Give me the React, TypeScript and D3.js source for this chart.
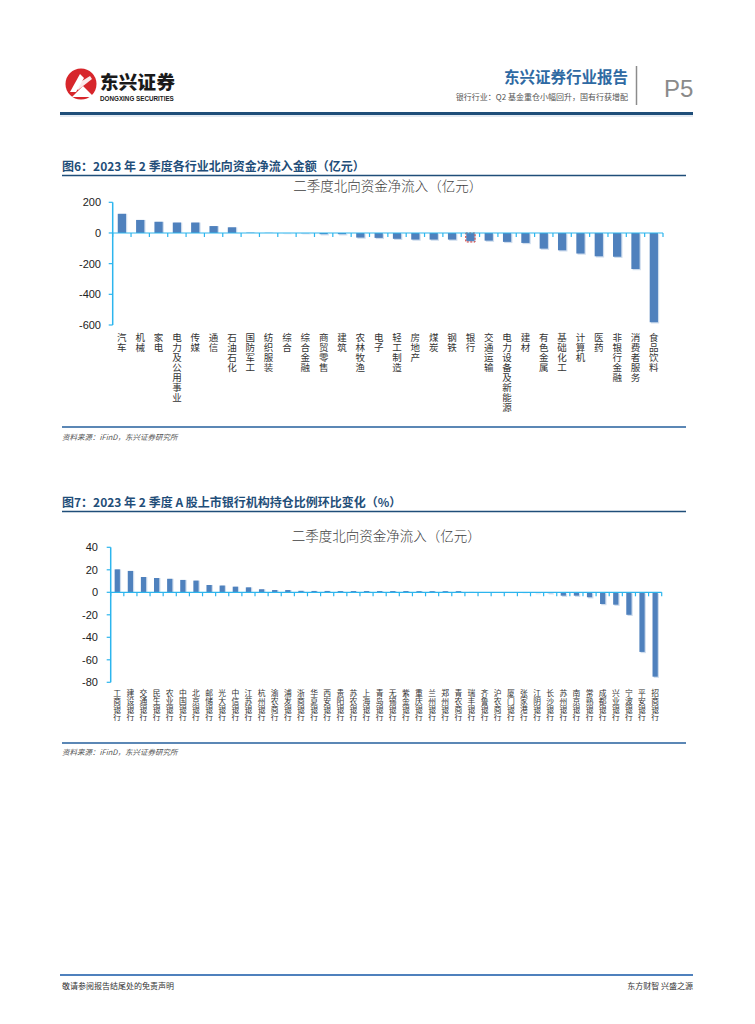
import * as d3 from "d3";

// 图6 data
const industries = [
  "汽车", "机械", "家电", "电力及公用事业", "传媒", "通信", "石油石化", "国防军工",
  "纺织服装", "综合", "综合金融", "商贸零售", "建筑", "农林牧渔", "电子", "轻工制造",
  "房地产", "煤炭", "钢铁", "银行", "交通运输", "电力设备及新能源", "建材", "有色金属",
  "基础化工", "计算机", "医药", "非银行金融", "消费者服务", "食品饮料",
];
const industryFlow = [
  125, 85, 73, 68, 68, 45, 37, 2, 1, -1, -2, -8, -8, -30, -32, -38,
  -43, -43, -43, -52, -50, -58, -65, -102, -113, -134, -152, -155, -235, -582,
];
const flowTicks = [200, 0, -200, -400, -600];

// 图7 data
const banks = [
  "工商银行", "建设银行", "交通银行", "民生银行", "农业银行", "中国银行", "北京银行",
  "邮储银行", "光大银行", "中信银行", "江苏银行", "杭州银行", "渝农商行", "浦发银行",
  "浙商银行", "华夏银行", "西安银行", "贵阳银行", "苏农银行", "上海银行", "青岛银行",
  "无锡银行", "紫金银行", "重庆银行", "兰州银行", "郑州银行", "青农商行", "瑞丰银行",
  "齐鲁银行", "沪农商行", "厦门银行", "张家港行", "江阴银行", "长沙银行", "苏州银行",
  "南京银行", "常熟银行", "成都银行", "兴业银行", "宁波银行", "平安银行", "招商银行",
];
const bankChange = [
  20.4, 19, 13.6, 12.7, 12, 11, 10.4, 6.5, 6, 5, 4.4, 2.7, 2, 2, 1.3, 1.2, 1.2,
  1.1, 1.1, 1.1, 1.1, 1.1, 1.1, 1, 1, 1, 1,
  0.3, 0.2, 0.05, -0.1, -0.2, -0.6, -0.8, -3, -3, -4.4, -10.4, -11, -20, -53, -75,
];
const bankTicks = [40, 20, 0, -20, -40, -60, -80];

const BAR = "#4f81bd";
const AXIS = "#2cb5ee";
const NAVY = "#1f4e79";
const CJK = "'Noto Sans CJK SC', 'Noto Sans', sans-serif";
const LATIN = "'Liberation Sans', Arial, sans-serif";

type ChartProps = {
  title: string;
  categories: string[];
  values: number[];
  ticks: number[];
  x0: number;
  x1: number;
  yTop: number;
  yBottom: number;
  titleY: number;
  labelTop: number;
  labelSize: number;
  labelPitch: number;
  barRatio: number;
  tickLabelX: number;
  highlight?: number;
};

function BarChart(p: ChartProps) {
  const x = d3.scaleBand<string>().domain(p.categories).range([p.x0, p.x1]).padding(0);
  const y = d3.scaleLinear()
    .domain([p.ticks[p.ticks.length - 1], p.ticks[0]])
    .range([p.yBottom, p.yTop]);
  const bw = x.bandwidth();
  const barW = bw * p.barRatio;
  const zero = y(0);
  const bounds = d3.range(p.categories.length + 1).map(i => p.x0 + i * bw);

  return (
    <g>
      <text x={(p.x0 + p.x1) / 2} y={p.titleY} textAnchor="middle" fontFamily={CJK}
        fontSize={13.5} fontWeight={300} fill="#404040">{p.title}</text>

      {/* bars */}
      {p.categories.map((c, i) => {
        const v = p.values[i];
        const cx = (x(c) || 0) + bw / 2;
        const top = Math.min(y(v), zero);
        const h = Math.abs(y(v) - zero);
        return (
          <g key={c}>
            <rect x={cx - barW / 2 + 1.2} y={top + (v < 0 ? 1.2 : 0)} width={barW} height={h}
              fill="#b9cde6" opacity={0.7} />
            <rect x={cx - barW / 2} y={top} width={barW} height={h} fill={BAR} />
            {p.highlight === i && (
              <rect x={cx - barW / 2 - 0.5} y={top} width={barW + 1} height={h + 1}
                fill="none" stroke="#d0312d" strokeWidth={1} strokeDasharray="2,1.5" />
            )}
          </g>
        );
      })}

      {/* y axis */}
      <line x1={p.x0} x2={p.x0} y1={p.yTop} y2={p.yBottom} stroke={AXIS} strokeWidth={1.5} />
      {p.ticks.map(t => (
        <g key={t}>
          <line x1={p.x0 - 4} x2={p.x0} y1={y(t)} y2={y(t)} stroke={AXIS} strokeWidth={1.2} />
          <text x={p.tickLabelX} y={y(t) + 4} textAnchor="end" fontFamily={LATIN}
            fontSize={11} fill="#222">{t}</text>
        </g>
      ))}

      {/* x axis at zero */}
      <line x1={p.x0} x2={p.x1} y1={zero} y2={zero} stroke={AXIS} strokeWidth={1.2} />
      {bounds.map((bx, i) => (
        <line key={i} x1={bx} x2={bx} y1={zero} y2={zero + 4} stroke={AXIS} strokeWidth={1.2} />
      ))}

      {/* vertical category labels, one glyph per line */}
      {p.categories.map(c => {
        const cx = (x(c) || 0) + bw / 2;
        return (
          <g key={c}>
            {Array.from(c).map((ch, k) => (
              <text key={k} x={cx} y={p.labelTop + (k + 1) * p.labelPitch - p.labelPitch * 0.14}
                fontFamily={CJK} fontSize={p.labelSize} fill="#333" textAnchor="middle">{ch}</text>
            ))}
          </g>
        );
      })}
    </g>
  );
}

function Header() {
  return (
    <g>
      {/* logo */}
      <circle cx={81} cy={84} r={15.5} fill="#d7262b" />
      <path d="M70,92 L80,74 L84,78 L76,92 Z" fill="#fff" />
      <path d="M74,86 L90,76 L92,79 L78,90 Z" fill="#fff" opacity={0.9} />
      <path d="M72,97 L83,86 L94,97 Z" fill="#fff" />
      <text x={100} y={88.5} fontFamily={CJK} fontSize={18.5} fontWeight={900} fill="#1a1a1a"
        letterSpacing={0.3}>东兴证券</text>
      <text x={100} y={100.5} fontFamily={LATIN} fontSize={6.3} fontWeight={700} fill="#1a1a1a">DONGXING SECURITIES</text>

      <text x={628} y={83} textAnchor="end" fontFamily={CJK} fontSize={15.5} fontWeight={700}
        fill="#2f6aa3">东兴证券行业报告</text>
      <text x={628} y={100} textAnchor="end" fontFamily={CJK} fontSize={8} fill="#555">
        银行行业：Q2 基金重仓小幅回升，国有行获增配
      </text>
      <line x1={636.5} x2={636.5} y1={66} y2={105} stroke="#8c8c8c" strokeWidth={1.5} />
      <text x={664} y={97} fontFamily={LATIN} fontSize={24} fill="#8a8a8a">P5</text>

      <line x1={60} x2={693} y1={113.5} y2={113.5} stroke={NAVY} strokeWidth={3} />
      <line x1={60} x2={693} y1={116} y2={116} stroke="#c9d6e6" strokeWidth={1} />
    </g>
  );
}

function Section(props: { heading: string; headY: number; lineY: number; bottomY: number; srcY: number }) {
  return (
    <g>
      <text x={62} y={props.headY} fontFamily={CJK} fontSize={12} fontWeight={700} fill={NAVY}>
        {props.heading}
      </text>
      <line x1={62} x2={686} y1={props.lineY} y2={props.lineY} stroke={NAVY} strokeWidth={1.3} />
      <line x1={62} x2={686} y1={props.bottomY} y2={props.bottomY} stroke="#5b87b5" strokeWidth={2} />
      <text x={62} y={props.srcY} fontFamily={CJK} fontSize={7.5} fontStyle="italic" fill="#555">
        资料来源：iFinD，东兴证券研究所
      </text>
    </g>
  );
}

export default function App() {
  return (
    <svg width={755} height={1024} style={{ position: "absolute", left: 0, top: 0, background: "#fff" }}>
      <rect width={755} height={1024} fill="#fff" />
      <Header />

      <Section heading="图6：2023 年 2 季度各行业北向资金净流入金额（亿元）"
        headY={171} lineY={175.5} bottomY={427} srcY={440} />
      <BarChart title="二季度北向资金净流入（亿元）" categories={industries} values={industryFlow}
        ticks={flowTicks} x0={112.7} x1={663} yTop={202.3} yBottom={325} titleY={191}
        labelTop={332} labelSize={9.5} labelPitch={10.1} barRatio={0.45} tickLabelX={101}
        highlight={19} />

      <Section heading="图7：2023 年 2 季度 A 股上市银行机构持仓比例环比变化（%）"
        headY={507} lineY={511.5} bottomY={743} srcY={755} />
      <BarChart title="二季度北向资金净流入（亿元）" categories={banks} values={bankChange}
        ticks={bankTicks} x0={110.7} x1={661.7} yTop={547.3} yBottom={682.3} titleY={541}
        labelTop={689} labelSize={7.8} labelPitch={8.1} barRatio={0.4} tickLabelX={98} />

      <line x1={60} x2={693} y1={975} y2={975} stroke="#4f81bd" strokeWidth={2} />
      <text x={62} y={989} fontFamily={CJK} fontSize={8} fill="#333">敬请参阅报告结尾处的免责声明</text>
      <text x={693} y={989} textAnchor="end" fontFamily={CJK} fontSize={8} fill="#333">东方财智 兴盛之源</text>
    </svg>
  );
}
